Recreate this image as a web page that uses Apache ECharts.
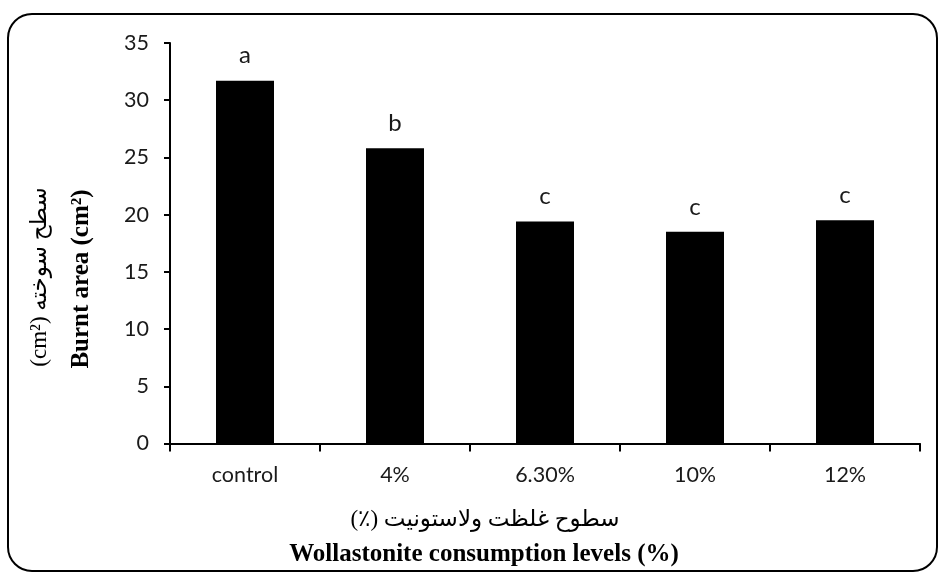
<!DOCTYPE html>
<html>
<head>
<meta charset="utf-8">
<script src="https://cdn.jsdelivr.net/npm/echarts@6/dist/echarts.min.js"></script>
<style>
html,body{margin:0;padding:0;background:#fff;}
#chart{width:938px;height:572px;}
</style>
</head>
<body>
<div id="chart"></div>
<script>
const categories = ['control', '4%', '6.30%', '10%', '12%'];
const burntArea = [31.7, 25.8, 19.4, 18.5, 19.5];
const groupLetters = ['a', 'b', 'c', 'c', 'c'];
const yMin = 0, yMax = 35, yStep = 5;
const xTitleFa = '(٪) سطوح غلظت ولاستونیت';
const xTitleEn = 'Wollastonite consumption levels (%)';
const yTitleFa = '(cm²) سطح سوخته';
const yTitleEn = 'Burnt area (cm²)';

const serif = "'Liberation Serif', 'DejaVu Sans', serif";
const sans = "Lato, 'Noto Sans', sans-serif";

const chart = echarts.init(document.getElementById('chart'), null, {renderer: 'canvas'});
chart.setOption({
  backgroundColor: '#fff',
  animation: false,
  grid: {left: 170, right: 18, top: 43, bottom: 128.5, containLabel: false},
  xAxis: {
    type: 'category',
    data: categories,
    boundaryGap: true,
    axisLine: {lineStyle: {color: '#000', width: 2}},
    axisTick: {show: true, length: 8, lineStyle: {color: '#000', width: 2}},
    axisLabel: {color: '#1a1a1a', fontFamily: sans, fontSize: 21.5, margin: 21}
  },
  yAxis: {
    type: 'value',
    min: yMin, max: yMax, interval: yStep,
    splitLine: {show: false},
    axisLine: {show: true, lineStyle: {color: '#000', width: 2}},
    axisTick: {show: true, length: 6, lineStyle: {color: '#000', width: 2}},
    axisLabel: {color: '#1a1a1a', fontFamily: sans, fontSize: 21.5, margin: 21}
  },
  series: [{
    type: 'bar',
    data: burntArea,
    barWidth: 58,
    itemStyle: {color: '#000'},
    label: {
      show: true,
      position: 'top',
      distance: 13,
      color: '#1a1a1a',
      fontFamily: sans,
      fontSize: 24,
      formatter: p => groupLetters[p.dataIndex]
    }
  }],
  graphic: [
    {type: 'rect', shape: {x: 8, y: 14, width: 929, height: 557, r: 24},
     style: {fill: 'none', stroke: '#000', lineWidth: 2}, silent: true},
    {type: 'text', x: 40, y: 277, rotation: Math.PI / 2,
     style: {text: yTitleFa, font: "23px " + serif, fill: '#000', align: 'center', verticalAlign: 'middle'}},
    {type: 'text', x: 82, y: 279, rotation: Math.PI / 2,
     style: {text: yTitleEn, font: "bold 25px " + serif, fill: '#000', align: 'center', verticalAlign: 'middle'}},
    {type: 'text', x: 485, y: 520,
     style: {text: xTitleFa, font: "23px " + serif, fill: '#000', align: 'center', verticalAlign: 'middle'}},
    {type: 'text', x: 484, y: 555,
     style: {text: xTitleEn, font: "bold 25px " + serif, fill: '#000', align: 'center', verticalAlign: 'middle'}}
  ]
});
</script>
</body>
</html>
